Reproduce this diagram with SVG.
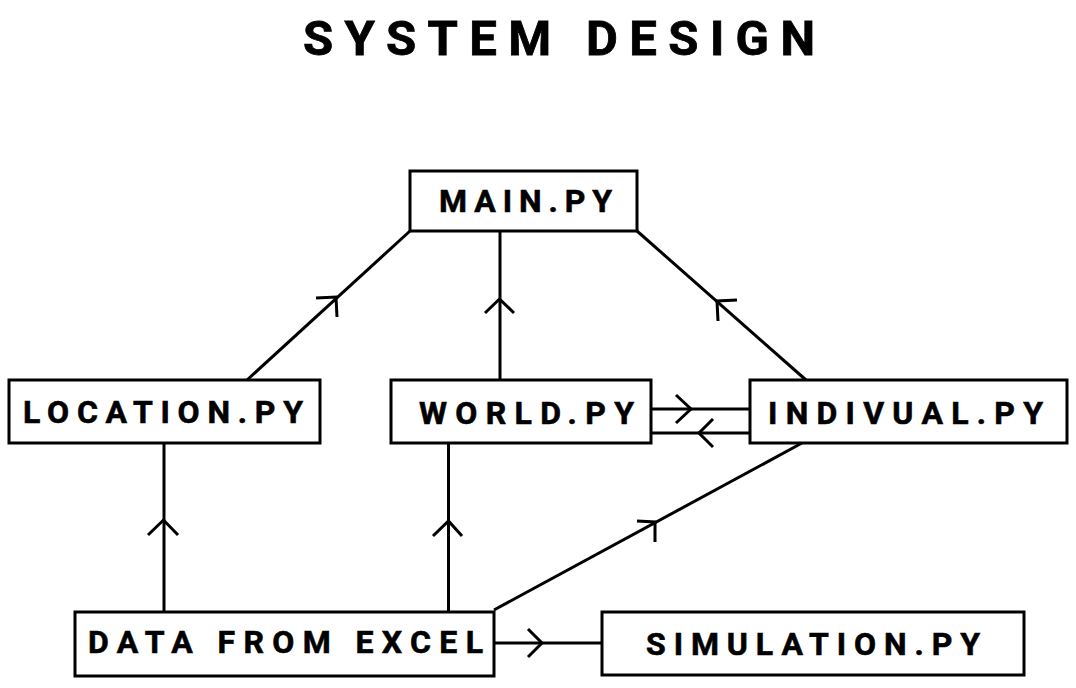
<svg xmlns="http://www.w3.org/2000/svg" width="1076" height="688" viewBox="0 0 1076 688">
<style>
.box{fill:#fff;stroke:#000;stroke-width:3}
.lbl{font-family:Roboto,"Liberation Sans",sans-serif;font-weight:bold;fill:#000;font-size:32px;stroke:#000;stroke-width:0.6}
.ttl{font-family:Roboto,"Liberation Sans",sans-serif;font-weight:bold;fill:#000;font-size:49px;stroke:#000;stroke-width:0.8}
.ln{fill:none;stroke:#000;stroke-width:3}
.ah{fill:none;stroke:#000;stroke-width:3}
</style>
<rect width="1076" height="688" fill="#fff"/>
<text class="ttl" x="303" y="55" textLength="512" lengthAdjust="spacing">SYSTEM DESIGN</text>
<g id="connectors">
<line class="ln" x1="247" y1="380" x2="410" y2="231"/>
<polyline class="ah" points="316,298 336,297 337,317"/>
<line class="ln" x1="500" y1="380" x2="500" y2="231"/>
<polyline class="ah" points="485,313 499.5,299 514,313"/>
<line class="ln" x1="806" y1="380" x2="637" y2="231"/>
<polyline class="ah" points="737,300 717,301 718,321"/>
<line class="ln" x1="651" y1="409" x2="750" y2="409"/>
<polyline class="ah" points="676,395 691,409 676,423"/>
<line class="ln" x1="651" y1="433" x2="750" y2="433"/>
<polyline class="ah" points="713,419 699,433 713,447"/>
<line class="ln" x1="164" y1="612" x2="164" y2="443"/>
<polyline class="ah" points="148,535 163.5,520 178,535"/>
<line class="ln" x1="448.5" y1="612" x2="448.5" y2="443"/>
<polyline class="ah" points="433,536 448.5,521 462,536"/>
<line class="ln" x1="494" y1="610" x2="802" y2="443"/>
<polyline class="ah" points="637,521 655,522 655,542"/>
<line class="ln" x1="494" y1="643" x2="602" y2="643"/>
<polyline class="ah" points="528,629 542,643 528,657"/>
</g>
<g id="main">
<rect class="box" x="410" y="171" width="227" height="60"/>
<text class="lbl" x="439" y="212" textLength="173" lengthAdjust="spacing">MAIN.PY</text>
</g>
<g id="location">
<rect class="box" x="9" y="380" width="311" height="63"/>
<text class="lbl" x="23" y="423" textLength="280" lengthAdjust="spacing">LOCATION.PY</text>
</g>
<g id="world">
<rect class="box" x="391" y="380" width="260" height="63"/>
<text class="lbl" x="419" y="424" textLength="215" lengthAdjust="spacing">WORLD.PY</text>
</g>
<g id="indivual">
<rect class="box" x="750" y="380" width="317" height="63"/>
<text class="lbl" x="768" y="424" textLength="275" lengthAdjust="spacing">INDIVUAL.PY</text>
</g>
<g id="data">
<rect class="box" x="75" y="612" width="419" height="64"/>
<text class="lbl" x="88" y="653" textLength="395" lengthAdjust="spacing">DATA FROM EXCEL</text>
</g>
<g id="simulation">
<rect class="box" x="602" y="612" width="422" height="63"/>
<text class="lbl" x="646" y="655" textLength="334" lengthAdjust="spacing">SIMULATION.PY</text>
</g>
</svg>
